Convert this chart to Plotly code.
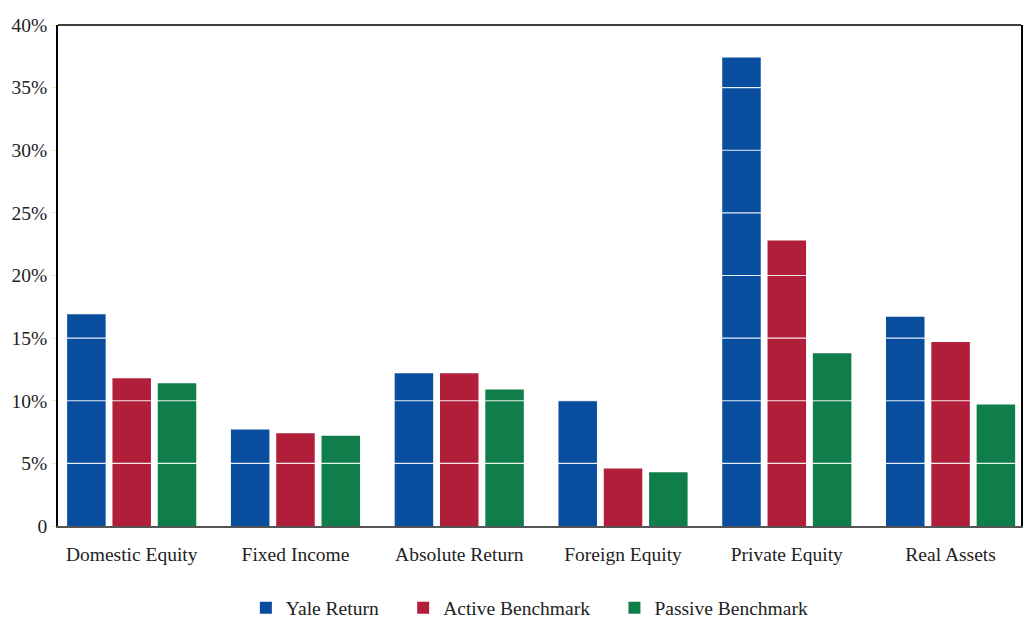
import plotly.graph_objects as go

categories = ["Domestic Equity", "Fixed Income", "Absolute Return",
              "Foreign Equity", "Private Equity", "Real Assets"]
yale_return = [16.9, 7.7, 12.2, 10.0, 37.4, 16.7]
active_benchmark = [11.8, 7.4, 12.2, 4.6, 22.8, 14.7]
passive_benchmark = [11.4, 7.2, 10.9, 4.3, 13.8, 9.7]
tick_values = [0, 5, 10, 15, 20, 25, 30, 35, 40]
tick_labels = ["0", "5%", "10%", "15%", "20%", "25%", "30%", "35%", "40%"]
series_names = ["Yale Return", "Active Benchmark", "Passive Benchmark"]

FONT = "Liberation Serif"
NBSP = "\u00a0"
pads = [4, 4, 0]
fig = go.Figure()
for name, pad, vals, col in zip(series_names, pads,
                                [yale_return, active_benchmark, passive_benchmark],
                                ["#094D9E", "#B01E3A", "#0F7E4B"]):
    fig.add_trace(go.Bar(x=categories, y=vals, name=name + NBSP * pad, marker_color=col,
                         marker_line_width=0))

shapes = []
for v in tick_values[1:-1]:
    shapes.append(dict(type="line", xref="paper", yref="y", x0=0, x1=1, y0=v, y1=v,
                       line=dict(color="rgba(255,255,255,0.9)", width=1.2), layer="above"))
# top frame line
shapes.append(dict(type="line", xref="paper", yref="paper", x0=0, x1=1, y0=1, y1=1,
                   line=dict(color="black", width=1.5), layer="above"))

fig.update_layout(
    width=1027, height=618,
    margin=dict(l=58, r=6, t=25, b=92, autoexpand=False),
    paper_bgcolor="white", plot_bgcolor="white",
    barmode="group", bargap=0.17, bargroupgap=0.15,
    font=dict(family=FONT, size=19.5, color="#222"),
    showlegend=True,
    legend=dict(orientation="h", x=0.49, xanchor="center", y=-0.125, yanchor="top",
                font=dict(family=FONT, size=19.5, color="#222"),
                itemwidth=30, tracegroupgap=0, itemsizing="constant"),
    shapes=shapes,
    xaxis=dict(type="category", range=[-0.45, 5.43], showgrid=False, automargin=False,
               showline=True, linecolor="#555", linewidth=2,
               ticks="", ticklabelstandoff=10,
               tickfont=dict(family=FONT, size=19.5, color="#222")),
    yaxis=dict(range=[0, 40], tickvals=tick_values, ticktext=tick_labels,
               showgrid=False, zeroline=False, automargin=False,
               showline=True, linecolor="black", linewidth=1.5, mirror=True,
               ticks="outside", ticklen=5, tickcolor="#F2F0B0",
               tickfont=dict(family=FONT, size=19.5, color="#222")),
)
fig.write_html("out.html", config={"displayModeBar": False},
               post_script="document.body.style.margin='0';")
